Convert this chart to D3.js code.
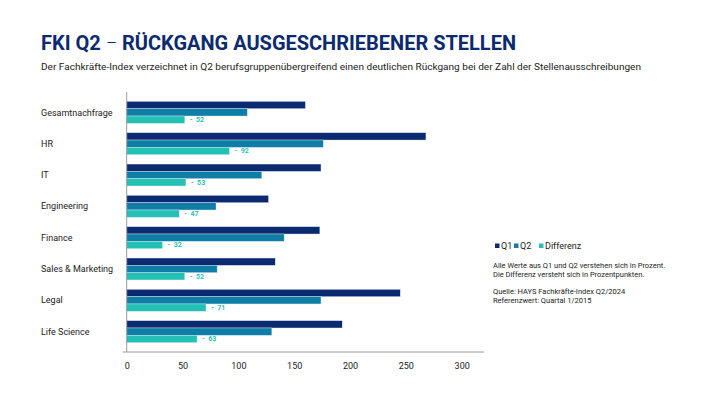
<!DOCTYPE html>
<html>
<head>
<meta charset="utf-8">
<script src="https://cdn.jsdelivr.net/npm/d3@7"></script>
<style>
  body { margin: 0; background: #fff; }
  text { font-family: Roboto, "Noto Sans", sans-serif; }
</style>
</head>
<body>
<script>
var categories = ["Gesamtnachfrage", "HR", "IT", "Engineering", "Finance", "Sales & Marketing", "Legal", "Life Science"];
var q1 = [160, 268, 174, 127, 173, 133, 245, 193];
var q2 = [108, 176, 121, 80, 141, 81, 174, 130];
var diff = [52, 92, 53, 47, 32, 52, 71, 63];
var seriesNames = ["Q1", "Q2", "Differenz"];
var xTicks = [0, 50, 100, 150, 200, 250, 300];
var notes1 = ["Alle Werte aus Q1 und Q2 verstehen sich in Prozent.", "Die Differenz versteht sich in Prozentpunkten."];
var notes2 = ["Quelle: HAYS Fachkräfte-Index Q2/2024", "Referenzwert: Quartal 1/2015"];

var width = 710, height = 399;
var colors = ["#0b2a6f", "#0f7ea6", "#22c1b4"];

var svg = d3.select("body").append("svg")
    .attr("width", width)
    .attr("height", height);

// title
var title = svg.append("text")
    .attr("x", 41)
    .attr("y", 50)
    .attr("textLength", 475)
    .attr("lengthAdjust", "spacingAndGlyphs")
    .style("font-size", "20px")
    .style("font-weight", "bold")
    .style("fill", "#0b2a6f");
title.append("tspan").text("FKI Q2 ");
title.append("tspan").style("font-weight", "300").text("−");
title.append("tspan").text(" RÜCKGANG AUSGESCHRIEBENER STELLEN");

svg.append("text")
    .attr("x", 41)
    .attr("y", 70)
    .attr("textLength", 600)
    .attr("lengthAdjust", "spacingAndGlyphs")
    .style("font-size", "9.5px")
    .style("fill", "#222")
    .text("Der Fachkräfte-Index verzeichnet in Q2 berufsgruppenübergreifend einen deutlichen Rückgang bei der Zahl der Stellenausschreibungen");

var x = d3.scaleLinear().domain([0, 320]).range([126.7, 484]);
var y = d3.scaleBand().domain(categories).range([92, 352]).paddingInner(0.3).paddingOuter(0.3);
var ySub = d3.scaleBand().domain(seriesNames).range([0, y.bandwidth()]);

var rows = categories.map(function(c, i) {
  return {cat: c, vals: [q1[i], q2[i], diff[i]]};
});

var groups = svg.selectAll(".group")
    .data(rows)
  .enter().append("g")
    .attr("class", "group")
    .attr("transform", function(d) { return "translate(0," + y(d.cat) + ")"; });

groups.selectAll("rect")
    .data(function(d) { return d.vals.map(function(v, j) { return {s: seriesNames[j], v: v, j: j}; }); })
  .enter().append("rect")
    .attr("x", x(0))
    .attr("y", function(d) { return ySub(d.s); })
    .attr("width", function(d) { return x(d.v) - x(0); })
    .attr("height", ySub.bandwidth())
    .style("fill", function(d) { return colors[d.j]; })
    .style("stroke", "#dfe8f2")
    .style("stroke-width", 0.4);

// difference labels
groups.append("text")
    .attr("x", function(d) { return x(d.vals[2]) + 5; })
    .attr("y", ySub("Differenz") + ySub.bandwidth() / 2)
    .attr("dy", "0.35em")
    .attr("xml:space", "preserve")
    .style("font-size", "7px")
    .style("font-weight", "bold")
    .style("fill", "#2cc3b6")
    .text(function(d) { return "-  " + d.vals[2]; });

// category labels
svg.selectAll(".cat")
    .data(categories)
  .enter().append("text")
    .attr("class", "cat")
    .attr("x", 41)
    .attr("y", function(d) { return y(d) + y.bandwidth() / 2; })
    .attr("dy", "0.35em")
    .style("font-size", "9px")
    .style("fill", "#222")
    .text(function(d) { return d; });

// axes
svg.append("line")
    .attr("x1", x(0)).attr("x2", x(0))
    .attr("y1", 92).attr("y2", 352)
    .style("stroke", "#9a9a9a");

var xAxis = d3.axisBottom(x).tickValues(xTicks).tickSize(0).tickPadding(11);
var gx = svg.append("g")
    .attr("transform", "translate(0,352)")
    .call(xAxis);
gx.select(".domain").remove();
gx.append("line")
    .attr("x1", x(0) - 4).attr("x2", x(320))
    .style("stroke", "#9a9a9a");
gx.selectAll("text")
    .style("font-size", "9px")
    .style("fill", "#222")
    .style("font-family", "Roboto, sans-serif");

// legend
var legend = svg.append("g").attr("transform", "translate(495,246)");
var lx = [0, 19, 44];
seriesNames.forEach(function(s, i) {
  legend.append("rect")
      .attr("x", lx[i]).attr("y", -2.5)
      .attr("width", 4.5).attr("height", 4.5)
      .style("fill", colors[i]);
  legend.append("text")
      .attr("x", lx[i] + 6).attr("y", 0)
      .attr("dy", "0.35em")
      .style("font-size", "9px")
      .style("fill", "#222")
      .text(s);
});

svg.selectAll(".note1")
    .data(notes1)
  .enter().append("text")
    .attr("x", 493)
    .attr("y", function(d, i) { return 265.5 + i * 9; })
    .attr("dy", "0.35em")
    .style("font-size", "7.5px")
    .style("fill", "#222")
    .text(function(d) { return d; });

svg.selectAll(".note2")
    .data(notes2)
  .enter().append("text")
    .attr("x", 493)
    .attr("y", function(d, i) { return 291.5 + i * 9; })
    .attr("dy", "0.35em")
    .style("font-size", "7.5px")
    .style("fill", "#222")
    .text(function(d) { return d; });
</script>
</body>
</html>
